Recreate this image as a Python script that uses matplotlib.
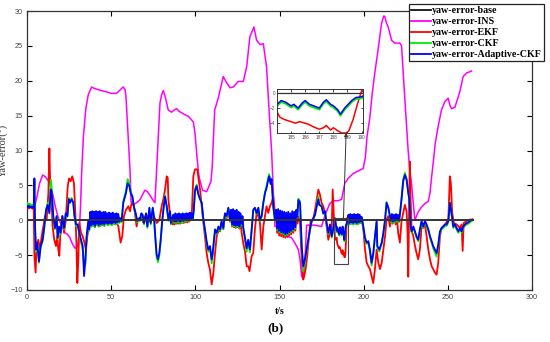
import matplotlib
matplotlib.use("Agg")
import matplotlib.pyplot as plt
from matplotlib.lines import Line2D
from matplotlib.patches import Rectangle

# ---- data ----
base_t = [0, 264.7]
base_y = [0, 0]

ins_pts = [(0, 2.0), (2, 2.0), (4, 1.9), (4.75, 2.2), (6, 3.5), (7.5, 5.3), (9.3, 6.5), (11, 6.2),
           (13.7, 5.3), (15.5, 3.5), (17, 1.8), (18.4, 0.5), (20, -0.5), (22.6, -1.8), (24, -2.0),
           (25.5, -2.5), (27, -3.4), (28.5, -4.0), (30, -3.8), (31, -2.0), (31.8, 2.0), (32.5, 7.0),
           (33.5, 12.0), (35, 16.1), (36.4, 18.0), (38.4, 19.1), (40, 18.9), (41.4, 18.8), (44, 18.6),
           (47.3, 18.4), (50, 18.2), (53.2, 18.2), (55, 18.6), (56.2, 18.9), (57.2, 19.1), (58.3, 18.7),
           (58.8, 17.7), (59.8, 13.4), (61.2, 7.2), (61.8, 2.7), (63, 2.2), (65, 2.5), (67, 2.9),
           (68.5, 3.6), (70, 4.3), (71.5, 4.1), (73, 3.6), (74.5, 3.0), (76, 2.5), (77, 7.2), (78, 12.0),
           (79, 16.8), (80, 18.0), (81, 18.6), (82, 17.8), (83, 16.8), (83.9, 15.8), (85.9, 15.5),
           (87.5, 15.8), (88.9, 16.0), (90.5, 15.6), (91.9, 15.4), (94, 15.1), (95.9, 14.9), (98.8, 14.1),
           (99.8, 12.5), (100.8, 9.6), (101.8, 7.0), (102.4, 6.0), (104.3, 4.3), (106.7, 4.1), (108, 4.8),
           (109.3, 5.6), (110, 7.5), (110.6, 11.0), (111.5, 15.8), (113.6, 17.5), (116.6, 20.6),
           (118.6, 19.7), (120.6, 19.0), (122.5, 19.1), (125.5, 19.9), (128.5, 19.9), (130.5, 22.0),
           (132.4, 26.3), (134.8, 27.7), (136.4, 25.8), (138.4, 25.2), (140.4, 25.3), (142.3, 22.0),
           (143.5, 17.0), (145.3, 10.0), (146.5, 3.0), (147.3, -0.9), (148.3, -0.9), (150.3, -1.6),
           (152, -2.1), (154.2, -2.3), (157.2, -2.5), (159.2, -3.3), (161.2, -4.2), (162.2, -5.6),
           (163.1, -8.0), (163.8, -8.3), (164.5, -7.8), (165.5, -4.0), (166.1, -0.7), (168, -0.7),
           (171, -0.7), (173, -0.8), (175, -0.9), (177, 0.7), (179.9, 2.4), (181.9, 2.8), (184.9, 2.8),
           (186.9, 3.0), (188.8, 5.3), (190.8, 6.0), (193.8, 6.7), (197.8, 7.2), (199.7, 7.4), (201, 9.0),
           (202, 12.0), (203.7, 14.8), (205, 18.0), (206.6, 21.1), (208.6, 24.5), (210.6, 28.2),
           (212.0, 29.3), (212.6, 29.2), (213.5, 28.3), (214.6, 27.7), (216.6, 25.8), (218.5, 25.4),
           (221.5, 25.4), (222.5, 25.0), (224.5, 17.2), (226.4, 10.1), (227.4, 7.2), (228.4, 5.3),
           (230.4, 0.0), (232.4, 1.2), (234.4, 1.9), (236.4, 2.4), (238.4, 2.7), (239.4, 3.9),
           (240.5, 6.5), (241.3, 8.2), (242.5, 11.0), (244.2, 13.4), (246.2, 15.8), (248.2, 17.0),
           (250.2, 17.5), (251.2, 16.5), (252.2, 16.0), (254.2, 16.2), (255.5, 17.2), (257.1, 18.4),
           (259.1, 20.6), (261.1, 21.1), (264.1, 21.4)]

ekf_pts = [(0, 1.8), (1, 1.7), (2, 1.9), (3, 1.7), (4, 1.6), (4.4, -5.1), (5.1, -7.5), (5.7, -3.7),
           (6.7, -2.8), (7.7, -4.2), (8.7, -2.3), (9.7, -0.9), (10.7, 0.6), (11.7, 0.1), (12.7, 3.9),
           (13.3, 10.3), (13.7, 6.0), (14.3, 4.4), (15.2, -0.9), (16.2, -2.8), (17.2, -3.7), (18, -2.3),
           (18.6, -4.2), (19.2, -5.1), (20, -1.1), (21, 0.6), (22, -1.8), (23, -0.1), (24.2, 4.9),
           (25, 6.0), (25.9, 5.6), (26.9, 6.3), (27.9, 5.3), (28.7, 1.05), (29.3, -2.8), (29.9, -9.0),
           (30.5, -5.6), (31.1, -0.4), (32.1, -1.8), (33.1, -2.3), (34.1, -3.2), (35, -4.2), (35.8, -2.3),
           (36.8, -0.9),
           (37.6, 0.9), (38.2, -0.9), (38.8, 1.0), (39.3, -0.8), (39.9, 1.0), (40.4, -1.0), (41.0, 1.1),
           (41.5, -0.7), (42.1, 1.0), (42.6, -0.9), (43.2, 1.1), (43.7, -0.8), (44.3, 0.9), (44.8, -0.7),
           (45.4, 1.0), (45.9, -0.8), (46.5, 1.0), (47.0, -0.6), (47.6, 0.8), (48.1, -0.7), (48.7, 0.9),
           (49.2, -0.6), (49.8, 0.8), (50.3, -0.7), (50.9, 0.9), (51.4, -0.5), (52.0, 0.7), (52.5, -0.6),
           (53.1, 0.8), (53.6, -0.5), (54.3, -0.9),
           (55.6, -3.2), (56.6, -2.3), (57.6, 0.6), (58.8, 1.5), (60.2, 2.0), (61.2, 1.3), (62.2, 2.5),
           (63.6, 2.0), (65.1, -0.9), (66, 0.2), (67.1, 0.1), (68, 0.6), (69, -0.3), (70, 0.5),
           (71.1, -0.2), (72, 0.7), (73, -0.2), (74, 0.6), (75, 0.0), (76, 0.3), (77, -0.4), (78.6, 0.0),
           (80, 2.0), (81, 3.0), (82, 4.4), (83, 6.3), (83.6, 6.1), (84, 3.0), (85, 0.6), (85.9, 0.1),
           (86.5, -0.6), (87.1, 0.6), (87.6, -0.6), (88.2, 0.7), (88.7, -0.5), (89.3, 0.6), (89.8, -0.5),
           (90.4, 0.7), (90.9, -0.5), (91.5, 0.6), (92.0, -0.4), (92.6, 0.7), (93.1, -0.4), (93.7, 0.6),
           (94.2, -0.3), (94.8, 0.7), (95.3, -0.3), (95.9, 0.7), (96.4, -0.2), (97.0, 0.9), (97.5, 0.0),
           (98.0, 1.5),
           (98.8, 6.3), (99.8, 7.3), (101.2, 7.3), (101.8, 6.1), (102.8, 4.4), (103.8, 2.0), (104.8, -0.4),
           (105.7, -2.3), (106.7, -4.7), (107.7, -6.1), (108.7, -7.1), (109.7, -9.2), (110.7, -7.6),
           (111.7, -4.7), (112.7, -2.3), (113.7, -1.5), (114.7, -1.6), (115.6, -0.5), (116.6, -1.3),
           (117.6, 0.8), (118.6, 0.3), (119.6, 1.5), (120.6, -0.2),
           (121.2, 1.2), (121.8, -0.9), (122.4, 1.3), (122.9, -1.0), (123.5, 1.1), (124.0, -1.1),
           (124.6, 1.2), (125.1, -1.0), (125.7, 0.9), (126.2, -1.2), (126.8, 0.5), (127.5, -1.8),
           (128.5, -3.3), (129.5, -4.5), (130.5, -6.6), (131.4, -6.6), (132.2, -7.3), (133.4, -5.2),
           (134.4, -4.7), (135.4, -1.3), (136.4, 1.05), (137.4, 0.6), (138.4, -0.4), (139.4, -4.2),
           (140.4, -0.9), (141.4, 0.6), (142.3, 2.0), (143.3, 1.05), (144.3, 2.0), (145.3, 2.5),
           (146.3, 3.4), (147.3, 1.05),
           (148.0, 0.8), (148.6, -1.8), (149.2, 0.9), (149.8, -2.2), (150.4, 0.7), (151.0, -2.3),
           (151.6, 0.6), (152.2, -2.4), (152.8, 0.5), (153.4, -2.5), (154.0, 0.4), (154.6, -2.4),
           (155.2, 0.5), (155.8, -2.2), (156.4, 0.3), (157.0, -2.0), (157.6, 0.6), (158.2, -1.8),
           (158.8, 0.5), (159.4, -1.5), (160.0, 0.8), (160.6, -0.5), (161.2, 0.5),
           (162.2, -0.4), (163.2, -5.6), (164.1, -8.5), (164.7, -8.0), (165.5, -7.0), (166.5, -5.1),
           (167.5, -2.3), (168.5, -0.1), (170.1, 0.2), (171.1, 1.5), (172.1, 3.0), (173.1, 4.4),
           (174, 3.7), (175, 2.5), (176, 2.0), (177, 1.05), (178, -0.9), (179, -2.8), (180, -1.8),
           (181, -1.3), (181.6, 4.4), (182.4, -0.1), (183, -2.8),
           (184.0, -2.5), (184.2, -3.2), (184.5, -3.5), (185.0, -3.8), (185.3, -4.0), (185.6, -3.8),
           (186.0, -4.0), (186.3, -4.2), (186.6, -4.5), (187.0, -4.8), (187.3, -4.6), (187.5, -4.3),
           (187.8, -4.9), (188.0, -4.6), (188.3, -5.0), (188.6, -5.3), (188.9, -5.3), (189.1, -5.0),
           (189.4, -3.5), (189.7, -1.5), (190.0, 0.3), (190.5, 0.1),
           (191.0, 0.6), (191.5, -0.6), (192.1, 0.7), (192.6, -0.5), (193.2, 0.6), (193.7, -0.6),
           (194.3, 0.7), (194.8, -0.5), (195.4, 0.6), (195.9, -0.6), (196.5, 0.7), (197.0, -0.5),
           (197.6, 0.6), (198.2, -0.4), (198.8, 0.3),
           (199.8, -1.3), (200.8, -4.2), (201.8, -6.1), (202.8, -6.6), (203.7, -7.0), (204.7, -8.0),
           (205.7, -9.0), (206.7, -7.0), (207.7, -4.2), (208.7, -6.1), (209.7, -7.0), (210.7, -6.1),
           (211.7, -4.2), (212.7, -2.3), (213.6, 0.1), (214.6, 0.6), (215.6, -0.9), (216.5, 0.3),
           (217.3, -0.5), (218.2, 0.4), (219.0, -0.6), (219.8, 0.2), (220.5, -1.8), (221.5, -3.2),
           (222.5, -0.1), (223.5, 1.05), (224.5, 2.2), (225.5, 1.3), (226.1, -2.0), (226.5, -8.1),
           (226.9, 0.0), (227.4, 8.4), (227.9, 3.0), (228.5, -1.5), (229.5, -2.3), (230.5, -3.7),
           (231.4, -4.7), (232.4, -5.6), (233.4, -4.2), (234.4, -0.9), (235.4, -1.1), (236.4, -0.6),
           (237.4, -2.3), (238.4, -4.2), (239.4, -5.6), (240.4, -6.6), (241.3, -7.0), (242.3, -7.5),
           (243.3, -7.8), (244.3, -6.1), (245.3, -2.3), (246.3, -1.1), (248.3, -0.6), (250.3, 0.1),
           (251.2, 6.3), (251.8, 5.3), (252.6, 1.05), (253.6, -0.4), (255.2, -0.6), (257.2, -1.1),
           (258.2, -0.6), (258.8, -4.4), (259.4, -0.4), (261.2, -0.1), (263.1, 0.1), (264.7, 0.1)]

# CKF and adaptive CKF share the same time samples
t_ckf = [0, 0.5, 1, 1.5, 2, 2.5, 3, 3.5, 4, 4.4,
         4.8, 5.3, 6.1, 7.1, 8.1, 9.3, 10.3, 11.3, 12.3, 13.3,
         14.1, 14.7, 15.6, 16.6, 17.6, 18.2, 19, 20, 21, 22,
         23, 24, 24.8, 25.5, 26.5, 27.5, 28.1, 29.1, 30.1, 31.1,
         32.1, 33.1, 33.9, 34.7, 35.4, 36.4, 37, 37.6, 38.2, 38.8,
         39.3, 39.9, 40.4, 41.0, 41.5, 42.1, 42.6, 43.2, 43.7, 44.3,
         44.8, 45.4, 45.9, 46.5, 47.0, 47.6, 48.1, 48.7, 49.2, 49.8,
         50.3, 50.9, 51.4, 52.0, 52.5, 53.1, 53.6, 54.2, 54.8, 55.4,
         56.2, 57.2, 58.8, 59.8, 60.8, 61.6, 62.6, 63.6, 64.6, 65.5,
         66.7, 67.1, 67.9, 68.7, 69.5, 70.7, 71.5, 72.7, 73.5, 74.7,
         75.4, 76.2, 77, 77.8, 78.6, 79.4, 80.2, 81, 82, 83,
         84, 85, 85.5, 86.9, 87.5, 88.1, 88.6, 89.2, 89.7, 90.3,
         90.8, 91.4, 91.9, 92.5, 93.0, 93.6, 94.1, 94.7, 95.2, 95.8,
         96.3, 96.9, 97.4, 98.0, 98.5, 99.1, 99.8, 100.8, 101.8, 102.8,
         103.8, 104.8, 105.7, 106.7, 107.7, 108.7, 109.7, 110.3, 111.1, 111.7,
         112.7, 113.7, 114.7, 115.6, 116.6, 117.6, 118.6, 119.6, 120.6, 121.2,
         121.8, 122.4, 122.9, 123.5, 124.0, 124.6, 125.1, 125.7, 126.2, 126.8,
         127.4, 128.0, 128.5, 129.5, 130.5, 131.4, 132.4, 133.4, 134.4, 135.4,
         136.4, 137.4, 138.4, 139.4, 140.4, 141.4, 142.3, 143.3, 143.9, 144.7,
         145.3, 146.3, 147.3, 148.0, 148.6, 149.2, 149.8, 150.4, 151.0, 151.6,
         152.2, 152.8, 153.4, 154.0, 154.6, 155.2, 155.8, 156.4, 157.0, 157.6,
         158.2, 158.8, 159.4, 160.0, 160.6, 161.2, 162.2, 163.2, 164.1, 165.1,
         166.1, 167.1, 168.1, 169.1, 170.1, 171.1, 172.1, 173.1, 173.6, 175,
         176, 177, 178, 179, 180, 181, 182, 183, 184.0, 184.3,
         184.6, 185.0, 185.2, 185.5, 185.8, 186.0, 186.3, 186.6, 187.0, 187.3,
         187.5, 187.8, 188.0, 188.3, 188.5, 188.8, 189.0, 189.3, 189.6, 190.0,
         190.5, 191.0, 191.5, 192.1, 192.6, 193.2, 193.7, 194.3, 194.8, 195.4,
         195.9, 196.5, 197.0, 197.6, 198.2, 198.8, 199.8, 200.8, 201.8, 202.8,
         203.7, 204.7, 205.7, 206.7, 207.7, 208.1, 209.3, 210.7, 211.7, 212.7,
         213.6, 214.6, 215.6, 216.2, 216.8, 217.4, 218.0, 218.6, 219.2, 219.8,
         220.4, 221.0, 221.6, 222.5, 223.5, 224.5, 225.5, 226.5, 227.1, 227.9,
         228.5, 229.5, 230.5, 231.4, 232.4, 233.4, 234.4, 235.4, 236.4, 237.4,
         238.4, 239.4, 240.4, 241.3, 242.3, 243.3, 244.3, 245.3, 246.3, 247.3,
         248.3, 249.3, 250.3, 251.2, 252.2, 253.2, 254.2, 255.2, 256.2, 257.2,
         258.2, 259.2, 260.2, 261.2, 262.2, 263.1, 264.7]

y_ackf = [2.0, 1.9, 2.1, 1.8, 2.0, 1.9, 1.8, 1.9, 1.8, 6.0,
          -1.0, -4.2, -3.2, -5.9, -3.7, -2.8, -0.9, 1.5, 2.2, 1.0,
          4.4, 4.1, 0.6, -1.1, 0.6, -2.5, -0.9, -1.8, 0.6, -1.1,
          1.0, 0.6, 3.0, 2.5, 3.0, 2.5, 0.8, -0.6, -0.6, -1.8,
          -2.8, -3.7, -8.0, -5.6, -2.3, -0.1, -1.3, 1.2, -0.7, 1.3,
          -0.6, 1.2, -0.8, 1.3, -0.5, 1.2, -0.7, 1.3, -0.6, 1.1,
          -0.5, 1.2, -0.6, 1.2, -0.4, 1.0, -0.5, 1.1, -0.4, 1.0,
          -0.5, 1.1, -0.3, 0.9, -0.4, 1.0, -0.3, 0.9, -0.2, 0.3,
          -0.1, 2.5, 3.9, 5.3, 4.9, 3.9, 3.4, 1.8, 1.0, -0.1,
          0.3, 0.1, 1.0, 0.8, -0.4, 1.0, -0.9, 1.8, -0.4, 1.8,
          0.6, -2.3, -4.9, -5.6, -4.7, -2.8, -0.4, 1.5, 3.4, 2.0,
          0.1, 1.3, -0.4, 0.8, -0.2, 1.0, -0.2, 0.9, -0.1, 1.0,
          -0.2, 0.9, -0.1, 1.0, -0.1, 0.9, 0.0, 1.0, 0.1, 1.0,
          0.1, 1.1, 0.2, 1.0, 0.3, 1.5, 4.2, 4.9, 3.7, 3.0,
          2.5, 0.1, -1.3, -3.0, -4.2, -3.7, -5.6, -4.7, -2.8, -1.3,
          -1.8, -0.9, -1.3, -0.1, -1.1, 1.0, 0.6, 1.8, 0.1, 1.5,
          -0.6, 1.6, -0.7, 1.4, -0.8, 1.5, -0.7, 1.2, -0.9, 1.0,
          -0.5, 0.6, -1.1, -2.5, -4.0, -2.8, -4.2, -1.5, 1.5, 1.8,
          1.0, 1.8, 0.1, 0.6, 2.5, 3.9, 4.6, 5.8, 6.3, 5.2,
          5.9, 2.0, 0.1, 1.5, -1.2, 1.6, -1.5, 1.4, -1.7, 1.3,
          -1.8, 1.2, -2.0, 1.1, -1.9, 1.2, -1.7, 1.0, -1.5, 1.3,
          -1.3, 1.2, -1.0, 1.5, 0.5, 2.9, 2.5, -3.7, -6.6, -5.6,
          -4.2, -2.8, -1.3, -0.1, 0.3, 0.8, 2.0, 3.0, 2.2, 2.0,
          1.0, 1.3, -0.4, -1.8, -0.6, -2.3, -1.1, 0.3, -1.5, -1.0,
          -1.2, -1.7, -1.5, -2.0, -1.3, -1.0, -1.5, -1.7, -2.0, -1.2,
          -0.9, -1.5, -1.7, -2.2, -2.8, -2.0, -1.6, -1.0, -0.6, -0.5,
          0.1, 0.8, -0.4, 0.9, -0.3, 0.8, -0.4, 0.9, -0.3, 0.8,
          -0.4, 0.9, -0.3, 0.8, -0.2, 0.5, -0.9, -2.5, -3.2, -3.0,
          -4.2, -6.1, -4.7, -2.3, -0.1, -3.7, -4.2, -3.2, -1.8, 0.1,
          2.5, 1.8, 0.6, -0.1, 0.9, -0.2, 0.8, -0.1, 0.9, 0.0,
          0.8, -0.1, 1.0, 3.0, 5.6, 6.5, 5.8, 3.9, 3.0, -0.9,
          -1.6, -0.9, -1.6, -2.3, -2.8, -1.3, -0.1, -0.9, -0.1, -0.6,
          -1.3, -2.3, -3.0, -3.7, -4.2, -4.7, -3.5, -1.6, -1.1, -0.9,
          -0.6, -0.6, -0.1, 2.5, 1.0, -0.9, -0.6, -1.1, -1.6, -1.1,
          -1.6, -0.9, -0.6, -0.4, -0.3, -0.1, 0.1]

y_ckf = [2.5, 2.3, 2.4, 2.2, 2.3, 2.2, 2.1, 2.2, 2.0, 5.6,
         -1.2, -4.5, -3.4, -6.1, -3.9, -3.0, -1.0, 1.4, 2.5, 1.2,
         5.8, 4.6, 0.5, -1.3, 0.5, -2.7, -1.0, -2.0, 0.5, -1.3,
         0.9, 0.5, 3.2, 2.6, 3.2, 2.6, 0.7, -0.8, -0.8, -2.0,
         -3.2, -4.3, -6.5, -6.3, -2.6, -0.3, -1.5, 1.1, -0.9, 1.2,
         -0.8, 1.1, -1.0, 1.2, -0.7, 1.1, -0.9, 1.2, -0.8, 1.0,
         -0.7, 1.1, -0.8, 1.1, -0.6, 0.9, -0.7, 1.0, -0.6, 0.9,
         -0.7, 1.0, -0.5, 0.8, -0.6, 0.9, -0.5, 0.8, -0.4, 0.2,
         -0.3, 2.7, 4.3, 5.9, 5.3, 4.1, 3.5, 1.7, 0.8, -0.3,
         0.1, -0.1, 0.9, 0.6, -0.6, 0.9, -1.1, 1.7, -0.6, 1.7,
         0.4, -2.6, -5.3, -6.0, -5.1, -3.1, -0.6, 1.4, 3.6, 2.0,
         -0.1, 1.2, -0.6, 0.7, -0.4, 0.9, -0.4, 0.8, -0.3, 0.9,
         -0.4, 0.8, -0.3, 0.9, -0.3, 0.8, -0.2, 0.9, -0.1, 0.9,
         -0.1, 1.0, 0.0, 0.9, 0.1, 1.4, 4.5, 5.1, 3.8, 3.1,
         2.5, -0.1, -1.5, -3.3, -4.5, -4.0, -6.2, -5.0, -3.0, -1.5,
         -2.0, -1.1, -1.5, -0.3, -1.3, 0.9, 0.4, 1.7, -0.1, 1.4,
         -0.8, 1.5, -0.9, 1.3, -1.0, 1.4, -0.9, 1.1, -1.1, 0.9,
         -0.7, 0.5, -1.3, -2.8, -4.5, -3.0, -4.6, -1.7, 1.4, 1.7,
         0.9, 1.7, -0.1, 0.5, 2.6, 4.1, 4.9, 6.1, 6.6, 5.4,
         6.0, 1.9, -0.1, 1.4, -1.4, 1.5, -1.7, 1.3, -1.9, 1.2,
         -2.0, 1.1, -2.2, 1.0, -2.1, 1.1, -1.9, 0.9, -1.7, 1.2,
         -1.5, 1.1, -1.2, 1.4, 0.4, 3.1, 2.7, -4.0, -7.3, -6.0,
         -4.5, -3.0, -1.5, -0.3, 0.1, 0.7, 2.1, 3.4, 2.4, 2.1,
         0.9, 1.2, -0.6, -2.0, -0.8, -2.5, -1.3, 0.1, -1.7, -1.2,
         -1.4, -1.9, -1.7, -2.2, -1.5, -1.2, -1.7, -1.9, -2.2, -1.4,
         -1.1, -1.7, -1.9, -2.4, -3.0, -2.2, -1.8, -1.2, -0.8, -0.7,
         -0.1, 0.7, -0.6, 0.8, -0.5, 0.7, -0.6, 0.8, -0.5, 0.7,
         -0.6, 0.8, -0.5, 0.7, -0.4, 0.4, -1.1, -2.7, -3.4, -3.2,
         -4.5, -6.5, -5.0, -2.5, -0.3, -3.9, -4.5, -3.4, -2.0, -0.1,
         2.6, 1.9, 0.5, -0.3, 0.8, -0.4, 0.7, -0.3, 0.8, -0.2,
         0.7, -0.3, 0.9, 3.2, 5.9, 6.8, 6.0, 4.0, 3.1, -1.1,
         -1.8, -1.1, -1.8, -2.5, -3.0, -1.5, -0.3, -1.1, -0.3, -0.8,
         -1.5, -2.5, -3.3, -4.0, -4.6, -5.2, -3.8, -1.8, -1.3, -1.1,
         -0.8, -0.8, -0.3, 2.6, 0.9, -1.1, -0.8, -1.3, -1.8, -1.3,
         -1.8, -1.1, -0.8, -0.6, -0.5, -0.3, 0.0]

labels = ["yaw-error-base", "yaw-error-INS", "yaw-error-EKF", "yaw-error-CKF", "yaw-error-Adaptive-CKF"]
colors = ["#111111", "#ff00ff", "#ff0000", "#00ee00", "#0000ff"]

assert len(t_ckf) == len(y_ackf) == len(y_ckf)
ins_t, ins_y = zip(*ins_pts)
ekf_t, ekf_y = zip(*ekf_pts)

fig = plt.figure(figsize=(5.5, 3.42), dpi=100)
ax = fig.add_axes([27 / 550, 1 - 290 / 342, 505 / 550, 279 / 342])

ax.plot(ins_t, ins_y, color=colors[1], lw=1.1, zorder=2)
ax.plot(ekf_t, ekf_y, color=colors[2], lw=1.3, zorder=3)
ax.plot(t_ckf, y_ckf, color=colors[3], lw=1.3, zorder=4)
ax.plot(t_ckf, y_ackf, color=colors[4], lw=1.3, zorder=5)
ax.plot(base_t, base_y, color="#333333", lw=1.4, zorder=6)

ax.set_xlim(0, 300)
ax.set_ylim(-10, 30)
ax.set_xticks(range(0, 301, 50))
ax.set_yticks(range(-10, 31, 5))
ax.tick_params(direction="in", length=3.5, width=0.8, top=True, right=True,
               labeltop=False, labelright=False, pad=3)
for lab in ax.get_xticklabels() + ax.get_yticklabels():
    lab.set_fontfamily("Liberation Sans")
    lab.set_fontsize(5.2)
    lab.set_color("#444444")
for s in ax.spines.values():
    s.set_color("#333333")
    s.set_linewidth(0.9)

ax.set_xlabel("t/s", family="Liberation Serif", fontsize=7, fontweight="bold", labelpad=4)
ax.set_ylabel("Yaw-error(\u00b0)", family="Liberation Serif", fontsize=7.5, color="#333333", labelpad=1)

fig.text(275 / 550, 1 - 328 / 342, "(b)", family="Liberation Serif", fontsize=9.5,
         fontweight="bold", ha="center", va="center")

# zoom box and inset
ax.add_patch(Rectangle((182.5, -6.3), 8.3, 6.6, fill=False, edgecolor="#444444", lw=0.8, zorder=7))

axin = fig.add_axes([277 / 550, 1 - 133 / 342, 86 / 550, 44 / 342])
axin.plot(ekf_t, ekf_y, color=colors[2], lw=1.1)
axin.plot(t_ckf, y_ckf, color=colors[3], lw=1.4)
axin.plot(t_ckf, y_ackf, color=colors[4], lw=1.1)
axin.plot(base_t, base_y, color="#333333", lw=0.9)
axin.set_xlim(184, 190.1)
axin.set_ylim(-5.3, 0.53)
axin.set_xticks(range(185, 191))
axin.set_yticks([-4, -2, 0])
axin.tick_params(direction="in", length=1.8, width=0.5, top=True, right=True, pad=1.5)
for lab in axin.get_xticklabels() + axin.get_yticklabels():
    lab.set_fontfamily("Liberation Sans")
    lab.set_fontsize(3.3)
    lab.set_color("#444444")
for s in axin.spines.values():
    s.set_color("#333333")
    s.set_linewidth(0.7)

ax.annotate("", xy=(188.9, -5.3), xycoords=axin.transData, xytext=(188.0, 0.3), textcoords="data",
            arrowprops=dict(arrowstyle="-|>", color="#333333", lw=0.7, mutation_scale=5,
                            shrinkA=0, shrinkB=0), zorder=8)

handles = [Line2D([], [], color=c, lw=1.3) for c in colors]
leg = fig.legend(handles, labels, loc="upper right", bbox_to_anchor=(544 / 550, 1 - 4 / 342),
                 prop={"family": "Liberation Serif", "weight": "bold", "size": 7.2},
                 frameon=True, fancybox=False, framealpha=1, edgecolor="#222222",
                 handlelength=2.0, handletextpad=0.1, labelspacing=0.2, borderpad=0.2,
                 borderaxespad=0, handleheight=0.6)
leg.get_frame().set_linewidth(0.9)

fig.savefig("out.png", dpi=100)
